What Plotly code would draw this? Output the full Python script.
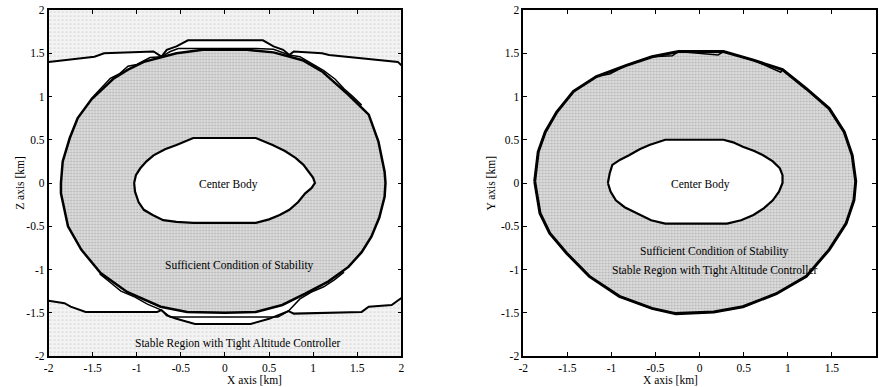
import plotly.graph_objects as go

# ---------------- data ----------------
AXIS_RANGE = [-2, 2]
TICK_VALS = [-2, -1.5, -1, -0.5, 0, 0.5, 1, 1.5, 2]
TICK_TEXT = ["-2", "-1.5", "-1", "-0.5", "0", "0.5", "1", "1.5", "2"]

# Left panel (X-Z plane)
LEFT_OUTER_X = [-1.86, -1.84, -1.76, -1.67, -1.52, -1.26, -1.10, -0.92, -0.55, -0.25, 0.25, 0.55, 0.88, 1.10,
                1.40, 1.63, 1.74, 1.81, 1.82, 1.81, 1.75, 1.66, 1.55, 1.40, 1.17, 0.91, 0.65, 0.35, 0.0,
                -0.43, -0.73, -1.11, -1.41, -1.63, -1.78, -1.86]
LEFT_OUTER_Y = [0.0, 0.25, 0.52, 0.75, 0.96, 1.21, 1.31, 1.40, 1.50, 1.54, 1.54, 1.51, 1.42, 1.29,
                1.02, 0.79, 0.48, 0.13, 0.0, -0.16, -0.40, -0.62, -0.80, -0.97, -1.14, -1.28, -1.41, -1.49, -1.50,
                -1.49, -1.43, -1.26, -1.04, -0.77, -0.50, -0.12]

LEFT_BODY_X = [-1.03, -1.01, -0.96, -0.89, -0.81, -0.68, -0.55, -0.45, -0.36, 0.35, 0.45, 0.54, 0.68, 0.80,
               0.89, 0.95, 1.00, 1.02, 0.98, 0.91, 0.83, 0.73, 0.62, 0.50, 0.35, -0.36, -0.55, -0.70, -0.82,
               -0.92, -0.98, -1.02]
LEFT_BODY_Y = [0.0, 0.09, 0.17, 0.25, 0.32, 0.39, 0.44, 0.48, 0.52, 0.52, 0.48, 0.44, 0.37, 0.29,
               0.21, 0.13, 0.06, 0.0, -0.06, -0.12, -0.22, -0.31, -0.37, -0.42, -0.46, -0.46, -0.45, -0.43, -0.37,
               -0.31, -0.22, -0.10]

LEFT_TIGHT_TOP_X = [-2.0, -1.82, -1.48, -1.37, -1.11, -0.81, -0.72, -0.66, -0.55, -0.42, 0.43, 0.55, 0.66,
                    0.73, 0.78, 1.10, 1.18, 1.55, 1.96, 2.0]
LEFT_TIGHT_TOP_Y = [1.40, 1.42, 1.46, 1.50, 1.51, 1.52, 1.46, 1.54, 1.58, 1.65, 1.65, 1.58, 1.54,
                    1.48, 1.52, 1.50, 1.48, 1.44, 1.40, 1.36]

LEFT_TIGHT_BOT_X = [-2.0, -1.82, -1.75, -1.58, -0.77, -0.72, -0.66, -0.55, -0.34, 0.29, 0.50, 0.65, 0.72,
                    0.78, 1.55, 1.63, 1.89, 2.0]
LEFT_TIGHT_BOT_Y = [-1.36, -1.39, -1.43, -1.49, -1.49, -1.47, -1.53, -1.57, -1.63, -1.63, -1.57, -1.51, -1.48,
                    -1.51, -1.49, -1.43, -1.41, -1.33]

LEFT_LENS_TOP_X = [-0.72, -0.62, -0.53, 0.35, 0.55, 0.66, 0.73]
LEFT_LENS_TOP_Y = [1.46, 1.52, 1.555, 1.555, 1.545, 1.51, 1.48]
LEFT_LENS_TL_X = [-0.72, -0.85, -1.00, -1.10, -1.20, -1.30, -1.40, -1.52]
LEFT_LENS_TL_Y = [1.46, 1.45, 1.37, 1.35, 1.26, 1.21, 1.10, 0.97]
LEFT_LENS_TR_X = [0.73, 0.85, 1.00, 1.12, 1.25, 1.35, 1.45, 1.55]
LEFT_LENS_TR_Y = [1.48, 1.46, 1.37, 1.30, 1.20, 1.09, 1.00, 0.90]
LEFT_LENS_BOT_X = [-0.72, -0.62, 0.60, 0.72]
LEFT_LENS_BOT_Y = [-1.47, -1.55, -1.55, -1.48]
LEFT_LENS_BL_X = [-0.72, -0.88, -1.02, -1.18, -1.30, -1.42]
LEFT_LENS_BL_Y = [-1.47, -1.40, -1.32, -1.25, -1.15, -1.05]
LEFT_LENS_BR_X = [0.72, 0.85, 0.98, 1.12, 1.24, 1.35]
LEFT_LENS_BR_Y = [-1.48, -1.34, -1.26, -1.20, -1.12, -1.03]

# Right panel (X-Y plane)
RIGHT_OUTER_X = [-1.87, -1.83, -1.75, -1.62, -1.43, -1.17, -0.83, -0.54, -0.24, 0.27, 0.61, 0.94, 1.21, 1.47,
                 1.64, 1.73, 1.77, 1.75, 1.66, 1.47, 1.21, 0.87, 0.49, 0.16, -0.27, -0.54, -0.91, -1.25,
                 -1.51, -1.70, -1.81]
RIGHT_OUTER_Y = [0.02, 0.36, 0.59, 0.82, 1.06, 1.23, 1.36, 1.46, 1.52, 1.52, 1.42, 1.31, 1.09, 0.86,
                 0.59, 0.32, 0.02, -0.20, -0.47, -0.77, -1.08, -1.28, -1.43, -1.49, -1.51, -1.45, -1.31, -1.08,
                 -0.81, -0.58, -0.35]

RIGHT_TIGHT_X = [-1.87, -1.83, -1.75, -1.62, -1.43, -1.17, -1.02, -0.83, -0.54, -0.31, -0.24, 0.21, 0.27,
                 0.61, 0.92, 0.94, 1.21, 1.47, 1.64, 1.73, 1.77, 1.75, 1.66, 1.47, 1.21, 0.87, 0.49, 0.16,
                 -0.27, -0.54, -0.91, -1.25, -1.51, -1.70, -1.81]
RIGHT_TIGHT_Y = [0.02, 0.36, 0.59, 0.82, 1.06, 1.23, 1.26, 1.36, 1.46, 1.47, 1.52, 1.48, 1.52,
                 1.42, 1.28, 1.31, 1.09, 0.86, 0.59, 0.32, 0.02, -0.20, -0.47, -0.77, -1.08, -1.28, -1.43, -1.49,
                 -1.51, -1.45, -1.31, -1.08, -0.81, -0.58, -0.35]

RIGHT_BODY_X = [-1.04, -1.02, -0.99, -0.90, -0.80, -0.68, -0.57, -0.48, -0.39, 0.27, 0.38, 0.49, 0.62, 0.72,
                0.83, 0.91, 0.94, 0.94, 0.90, 0.83, 0.73, 0.61, 0.47, 0.31, -0.39, -0.55, -0.72, -0.85,
                -0.95, -1.01]
RIGHT_BODY_Y = [0.0, 0.11, 0.21, 0.27, 0.32, 0.39, 0.44, 0.47, 0.50, 0.50, 0.47, 0.42, 0.37, 0.32,
                0.25, 0.17, 0.09, 0.0, -0.10, -0.20, -0.29, -0.37, -0.43, -0.47, -0.47, -0.43, -0.35, -0.28,
                -0.20, -0.10]

LEFT_LABELS = ["Center Body", "Sufficient Condition of Stability", "Stable Region with Tight Altitude Controller"]
LEFT_LABEL_X = [0.04, 0.16, 0.15]
LEFT_LABEL_Y = [-0.02, -0.95, -1.85]
RIGHT_LABELS = ["Center Body", "Sufficient Condition of Stability", "Stable Region with Tight Altitude Controller"]
RIGHT_LABEL_X = [0.01, 0.17, 0.17]
RIGHT_LABEL_Y = [-0.02, -0.79, -1.01]

X_TITLE = "X axis [km]"
LEFT_Y_TITLE = "Z axis [km]"
RIGHT_Y_TITLE = "Y axis [km]"

# ---------------- styling ----------------
FONT = "Liberation Serif"
RING_PATTERN = dict(shape=".", fgcolor="#8a8a8a", bgcolor="#dcdcdc", size=3, solidity=0.3)
TIGHT_PATTERN = dict(shape=".", fgcolor="#b0b0b0", bgcolor="#f3f3f3", size=4, solidity=0.15)

fig = go.Figure()


def closed(v):
    return list(v) + list(v[:1])


def line(x, y, xa, ya, w, fill=None, fillcolor=None, pattern=None):
    fig.add_trace(go.Scatter(
        x=x, y=y, xaxis=xa, yaxis=ya, mode="lines",
        line=dict(color="black", width=w),
        fill=fill, fillcolor=fillcolor, fillpattern=pattern,
        hoverinfo="skip", showlegend=False))


def area(x, y, xa, ya, pattern):
    fig.add_trace(go.Scatter(
        x=x, y=y, xaxis=xa, yaxis=ya, mode="lines", line=dict(width=0),
        fill="toself", fillpattern=pattern, hoverinfo="skip", showlegend=False))


# Left panel: tight altitude-controller regions (above top line, below bottom line)
area(LEFT_TIGHT_TOP_X + [AXIS_RANGE[1], AXIS_RANGE[0]],
     LEFT_TIGHT_TOP_Y + [AXIS_RANGE[1], AXIS_RANGE[1]], "x", "y", TIGHT_PATTERN)
area(LEFT_TIGHT_BOT_X + [AXIS_RANGE[1], AXIS_RANGE[0]],
     LEFT_TIGHT_BOT_Y + [AXIS_RANGE[0], AXIS_RANGE[0]], "x", "y", TIGHT_PATTERN)
# ring
line(closed(LEFT_OUTER_X), closed(LEFT_OUTER_Y), "x", "y", 2.5, "toself", None, RING_PATTERN)
line(closed(LEFT_BODY_X), closed(LEFT_BODY_Y), "x", "y", 2.2, "toself", "white")
line(LEFT_TIGHT_TOP_X, LEFT_TIGHT_TOP_Y, "x", "y", 2)
line(LEFT_TIGHT_BOT_X, LEFT_TIGHT_BOT_Y, "x", "y", 2)
for lx, ly in [(LEFT_LENS_TOP_X, LEFT_LENS_TOP_Y), (LEFT_LENS_TL_X, LEFT_LENS_TL_Y),
               (LEFT_LENS_TR_X, LEFT_LENS_TR_Y), (LEFT_LENS_BOT_X, LEFT_LENS_BOT_Y),
               (LEFT_LENS_BL_X, LEFT_LENS_BL_Y), (LEFT_LENS_BR_X, LEFT_LENS_BR_Y)]:
    line(lx, ly, "x", "y", 1.5)

# Right panel
line(closed(RIGHT_OUTER_X), closed(RIGHT_OUTER_Y), "x2", "y2", 3, "toself", None, RING_PATTERN)
line(closed(RIGHT_TIGHT_X), closed(RIGHT_TIGHT_Y), "x2", "y2", 1.5)
line(closed(RIGHT_BODY_X), closed(RIGHT_BODY_Y), "x2", "y2", 2.2, "toself", "white")

annotations = []
for t, x, y in zip(LEFT_LABELS, LEFT_LABEL_X, LEFT_LABEL_Y):
    annotations.append(dict(x=x, y=y, xref="x", yref="y", text=t, showarrow=False,
                            font=dict(family=FONT, size=11.5, color="black")))
for t, x, y in zip(RIGHT_LABELS, RIGHT_LABEL_X, RIGHT_LABEL_Y):
    annotations.append(dict(x=x, y=y, xref="x2", yref="y2", text=t, showarrow=False,
                            font=dict(family=FONT, size=11.5, color="black")))

W, H = 879, 387
L_DOM = [44 / W, 400 / W]
R_DOM = [523 / W, 879 / W]
annotations += [
    dict(x=(L_DOM[0] + L_DOM[1]) / 2, y=-24 / 346, xref="paper", yref="paper", text=X_TITLE,
         showarrow=False, font=dict(family=FONT, size=11.5, color="black"), yanchor="middle"),
    dict(x=(R_DOM[0] + R_DOM[1]) / 2, y=-24 / 346, xref="paper", yref="paper", text=X_TITLE,
         showarrow=False, font=dict(family=FONT, size=11.5, color="black"), yanchor="middle"),
    dict(x=15 / W, y=0.5, xref="paper", yref="paper", text=LEFT_Y_TITLE, textangle=-90,
         showarrow=False, font=dict(family=FONT, size=11.5, color="black"), xanchor="center"),
    dict(x=490 / W, y=0.5, xref="paper", yref="paper", text=RIGHT_Y_TITLE, textangle=-90,
         showarrow=False, font=dict(family=FONT, size=11.5, color="black"), xanchor="center"),
]

axis_common = dict(range=AXIS_RANGE, tickvals=TICK_VALS, ticktext=TICK_TEXT, ticks="inside", ticklen=4,
                   tickwidth=1, tickcolor="black", showline=True, linecolor="black", linewidth=1.5,
                   mirror="ticks", showgrid=False, zeroline=False,
                   tickfont=dict(family=FONT, size=11.5, color="black"))

fig.update_layout(
    width=W, height=H,
    margin=dict(l=0, r=0, t=10, b=31),
    paper_bgcolor="white", plot_bgcolor="white",
    xaxis=dict(domain=L_DOM, anchor="y", **axis_common),
    yaxis=dict(domain=[0, 1], anchor="x", **axis_common),
    xaxis2=dict(domain=R_DOM, anchor="y2", **axis_common),
    yaxis2=dict(domain=[0, 1], anchor="x2", **axis_common),
    annotations=annotations,
    showlegend=False,
)

fig.write_html("out.html")
